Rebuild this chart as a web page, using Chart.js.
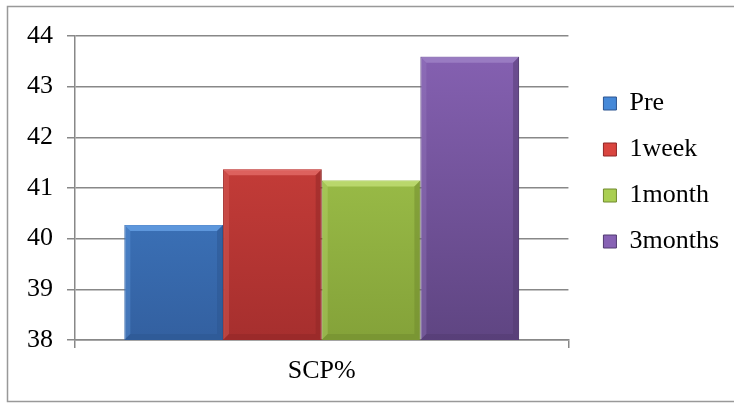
<!DOCTYPE html>
<html>
<head>
<meta charset="utf-8">
<script src="https://cdn.jsdelivr.net/npm/chart.js@4"></script>
<style>
  html, body { margin: 0; padding: 0; background: #fff; }
  #wrap { width: 734px; height: 403px; }
</style>
</head>
<body>
<div id="wrap"><canvas id="scp-chart" width="734" height="403"></canvas></div>
<script>
const categories = ['SCP%'];
const seriesNames = ['Pre', '1week', '1month', '3months'];
const seriesValues = [40.27, 41.37, 41.15, 43.59];
const yTicks = [38, 39, 40, 41, 42, 43, 44];

// top colour, bottom colour, bevel highlight, bevel shadow
const barShades = [
  ['#4689d8', '#3360a0', '#6aa4ea', '#2c5590'],
  ['#d9453f', '#a62f2e', '#e66f6b', '#8f2626'],
  ['#aacf52', '#84a239', '#c4e27a', '#708a2e'],
  ['#8762b4', '#5f4582', '#a084c8', '#513a70']
];

const FONT = 'Liberation Serif, "Times New Roman", serif';
const LEGEND_EXTRA = 15;   // empty space between plot and legend
const LEGEND_LIFT = 39;    // legend sits above the vertical centre

function barGradient(ctx, i) {
  const area = ctx.chart.chartArea;
  if (!area) return barShades[i][0];
  const g = ctx.chart.ctx.createLinearGradient(0, area.top, 0, area.bottom);
  g.addColorStop(0, barShades[i][0]);
  g.addColorStop(1, barShades[i][1]);
  return g;
}

// white page with the grey frame around the chart
const framePlugin = {
  id: 'frame',
  beforeDraw(chart) {
    const c = chart.ctx;
    c.save();
    c.fillStyle = '#fff';
    c.fillRect(0, 0, chart.width, chart.height);
    c.strokeStyle = '#999';
    c.lineWidth = 1.5;
    c.strokeRect(7.5, 6.5, chart.width + 10, 395);
    c.restore();
  }
};

// widen the legend box, then slide it back so the gap opens on the plot side
const legendSpacing = {
  id: 'legendSpacing',
  afterInit(chart) {
    const legend = chart.legend;
    if (!legend) return;
    const fit = legend.fit.bind(legend);
    legend.fit = function () {
      fit();
      this.width += LEGEND_EXTRA;
    };
  },
  afterLayout(chart) {
    const legend = chart.legend;
    if (!legend) return;
    legend.left += LEGEND_EXTRA;
    legend.right += LEGEND_EXTRA;
    legend.top -= LEGEND_LIFT;
    legend.bottom -= LEGEND_LIFT;
  }
};

// soft bevel edges on each bar
const bevelPlugin = {
  id: 'bevel',
  afterDatasetsDraw(chart) {
    const c = chart.ctx;
    const b = 6;
    const floor = chart.scales.y.getPixelForValue(yTicks[0]);
    chart.data.datasets.forEach((ds, i) => {
      chart.getDatasetMeta(i).data.forEach((bar) => {
        const left = bar.x - bar.width / 2;
        const right = bar.x + bar.width / 2;
        const top = bar.y;
        const bottom = Math.min(bar.base, floor);
        c.save();
        c.globalAlpha = 0.75;
        c.fillStyle = barShades[i][2];
        c.beginPath();
        c.moveTo(left, top);
        c.lineTo(right, top);
        c.lineTo(right - b, top + b);
        c.lineTo(left + b, top + b);
        c.closePath();
        c.fill();
        c.globalAlpha = 0.3;
        c.beginPath();
        c.moveTo(left, top);
        c.lineTo(left + b, top + b);
        c.lineTo(left + b, bottom - b);
        c.lineTo(left, bottom);
        c.closePath();
        c.fill();
        c.globalAlpha = 0.5;
        c.fillStyle = barShades[i][3];
        c.beginPath();
        c.moveTo(right, top);
        c.lineTo(right, bottom);
        c.lineTo(right - b, bottom - b);
        c.lineTo(right - b, top + b);
        c.closePath();
        c.fill();
        c.beginPath();
        c.moveTo(left, bottom);
        c.lineTo(right, bottom);
        c.lineTo(right - b, bottom - b);
        c.lineTo(left + b, bottom - b);
        c.closePath();
        c.fill();
        c.restore();
      });
    });
  }
};

const datasets = seriesNames.map((name, i) => ({
  label: name,
  data: [seriesValues[i]],
  backgroundColor: (ctx) => barGradient(ctx, i),
  borderColor: barShades[i][3],
  borderWidth: 1,
  categoryPercentage: 0.8,
  barPercentage: 1
}));

new Chart(document.getElementById('scp-chart'), {
  type: 'bar',
  data: { labels: categories, datasets },
  plugins: [framePlugin, legendSpacing, bevelPlugin],
  options: {
    responsive: false,
    animation: false,
    layout: { padding: { left: 8, top: 36, right: 5, bottom: 16 } },
    plugins: {
      tooltip: { enabled: false },
      legend: {
        position: 'right',
        align: 'center',
        labels: {
          boxWidth: 13,
          boxHeight: 13,
          padding: 20,
          color: '#000',
          font: { family: FONT, size: 26 },
          generateLabels(chart) {
            return chart.data.datasets.map((ds, i) => ({
              text: ds.label,
              fillStyle: barShades[i][0],
              strokeStyle: barShades[i][3],
              lineWidth: 1,
              datasetIndex: i
            }));
          }
        }
      }
    },
    scales: {
      x: {
        grid: { display: true, drawOnChartArea: false, drawTicks: true, tickLength: 8, color: '#888', lineWidth: 1.5 },
        border: { color: '#888', width: 1.5 },
        ticks: { color: '#000', font: { family: FONT, size: 26 }, padding: 8 },
        afterFit(scale) { scale.height = 47; }
      },
      y: {
        min: yTicks[0],
        max: yTicks[yTicks.length - 1],
        afterBuildTicks(scale) { scale.ticks = yTicks.map((v) => ({ value: v })); },
        grid: { color: '#888', lineWidth: 1.5, tickLength: 8 },
        border: { color: '#888', width: 1.5 },
        ticks: { color: '#000', font: { family: FONT, size: 26 }, padding: 14 },
        afterFit(scale) { scale.width = 67; }
      }
    }
  }
});
</script>
</body>
</html>
